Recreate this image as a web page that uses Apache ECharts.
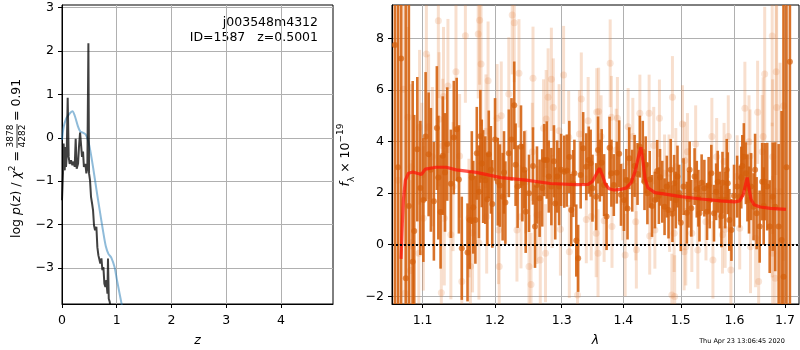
<!DOCTYPE html>
<html><head><meta charset="utf-8">
<script src="https://cdn.jsdelivr.net/npm/echarts@6/dist/echarts.min.js"></script>
<style>html,body{margin:0;padding:0;background:#fff}#c{width:800px;height:350px}</style>
</head><body><div id="c"></div>
<script>
// ---------- left panel: p(z) ----------
const pzBlueZ   = [0, 0.03, 0.08, 0.14, 0.19, 0.23, 0.29, 0.335, 0.38, 0.43, 0.48, 0.52, 0.57, 0.63, 0.69, 0.75, 0.80, 0.85, 0.90, 0.96, 1.0, 1.05, 1.09, 1.15];
const pzBlueLog = [-0.05, 0.25, 0.45, 0.56, 0.61, 0.52, 0.27, 0.14, 0.12, 0.08, -0.08, -0.32, -0.7, -1.2, -1.68, -2.15, -2.5, -2.68, -2.76, -2.98, -3.25, -3.58, -3.84, -4.25];
const pzBlackZ   = [0, 0.018, 0.03, 0.05, 0.06, 0.073, 0.085, 0.104, 0.122, 0.14, 0.165, 0.19, 0.213, 0.232, 0.25, 0.268, 0.293, 0.31, 0.33, 0.348, 0.366, 0.384, 0.40, 0.427, 0.445, 0.463, 0.482, 0.494, 0.512, 0.53, 0.55, 0.567, 0.585, 0.604, 0.628, 0.646, 0.665, 0.683, 0.70, 0.72, 0.738, 0.756, 0.774, 0.793, 0.81, 0.83, 0.84, 0.854, 0.872, 0.89, 0.93];
const pzBlackLog = [-1.44, -0.82, -0.13, -0.75, -0.21, -0.67, -0.44, 0.92, -0.44, -0.6, -0.52, -0.63, -0.55, -0.67, -0.02, -0.71, -0.6, -0.21, 0.12, 0.1, -0.44, -0.32, -0.67, -0.6, -0.82, -0.71, 2.18, -0.82, -0.98, -1.36, -1.52, -1.67, -2.02, -2.13, -2.05, -2.52, -2.71, -2.75, -2.9, -2.78, -3.05, -2.98, -3.36, -3.44, -3.28, -3.59, -2.78, -3.71, -3.78, -3.98, -4.1];
const leftXTicks = [0, 1, 2, 3, 4];
const leftYTicks = [-3, -2, -1, 0, 1, 2, 3];
const labelLine1 = 'j003548m4312';
const labelLine2 = 'ID=1587   z=0.5001';
const chi2Num = '3878', chi2Den = '4282', chi2Val = '0.91';

// ---------- right panel: spectrum ----------
const rightXTicks = [1.1, 1.2, 1.3, 1.4, 1.5, 1.6, 1.7];
const rightYTicks = [-2, 0, 2, 4, 6, 8];
const darkWave = [1.064,1.072,1.078,1.087,1.089,1.093,1.097,1.101,1.104,1.108,
  1.111,1.115,1.119,1.121,1.124,1.127,1.130,1.133,1.138,1.142,
  1.146,1.149,1.153,1.161,1.164,1.169,1.172,1.174,1.177,1.181,
  1.183,1.186,1.189,1.191,1.196,1.200,1.204,1.207,1.211,1.215,
  1.220,1.224,1.228,1.233,1.238,1.240,1.245,1.250,1.256,1.259,
  1.262,1.266,1.273,1.277,1.280,1.284,1.288,1.293,1.296,1.304,
  1.308,1.315,1.320,1.323,1.326,1.330,1.334,1.339,1.343,1.349,
  1.355,1.358,1.361,1.364,1.368,1.372,1.377,1.380,1.384,1.389,
  1.393,1.396,1.401,1.405,1.410,1.415,1.419,1.424,1.428,1.433,
  1.436,1.441,1.445,1.449,1.454,1.458,1.463,1.467,1.471,1.475,
  1.478,1.482,1.488,1.491,1.494,1.500,1.505,1.511,1.514,1.519,
  1.525,1.529,1.534,1.538,1.543,1.548,1.553,1.556,1.561,1.565,
  1.568,1.572,1.577,1.582,1.587,1.590,1.594,1.599,1.605,1.610,
  1.615,1.618,1.622,1.628,1.632,1.637,1.643,1.649,1.654,1.659,
  1.664,1.669,1.675,1.680,1.687,1.693,1.697,1.703,1.710,
  1.167,1.179,1.194,1.213,1.230,1.243,1.270,1.290,1.299,1.312,
  1.318,1.346,1.407,1.438,1.461,1.485,1.497,1.516,1.532,1.551,
  1.575,1.585,1.613,1.625,1.640,1.657,1.068,1.082];
const darkFlux = [7.74,7.22,-1.3,-0.66,0.53,3.7,2.2,1.73,4.19,3.5,
  2.9,1.68,4.52,2.6,1.27,3.45,2.8,3.9,2.36,4.15,
  4.47,2.53,-0.14,-0.3,0.96,1.45,0.96,3.54,2.05,3.15,
  2.64,2.5,1.76,3.5,1.58,4.08,2.44,2.29,1.86,1.63,
  3.54,4.08,5.4,2.25,3.8,2.4,1.28,1.99,3.05,0.7,
  2.31,1.8,3.28,3.28,2.64,2.25,3.23,2.64,2.25,2.83,
  2.87,1.34,2.77,0.16,-0.53,2.7,3.74,3.02,3.28,2.19,
  1.86,3.67,2.87,3.18,2.31,1.09,3.76,2.77,2.31,2.79,
  3.52,1.93,1.73,2.51,3.35,2.48,3.05,2.74,3.8,3.6,
  2.44,1.99,2.53,1.5,1.73,2.86,2.61,2.05,1.47,2.25,
  1.34,2.9,2.38,1.73,2.64,0.85,2.25,1.24,1.76,1.41,
  2.64,2.15,1.22,2.4,2.19,1.28,1.73,2.77,1.22,2.05,
  2.44,1.73,2.4,1.73,2.38,0.96,0.57,1.9,2.25,1.86,
  3.05,3.41,2.77,1.73,2.25,1.47,1.22,0.7,2.44,2.44,
  2.25,0.7,1.86,1.47,0.7,0.18,-1.24,3.0,7.09,
  2.6,4.2,2.9,2.8,3.1,2.9,2.2,1.6,2.9,3.4,
  2.37,3.16,1.4,3.1,1.9,1.2,2.0,2.9,1.8,2.3,
  1.1,2.9,2.6,2.2,2.9,1.5,3.0,1.5];
const darkErr  = [12,12,12,7,4.5,2.8,2.6,2.4,2.5,2.4,
  2.4,2.3,2.4,2.4,2.2,2.3,2.3,2.2,2.1,2.2,
  2.0,2.1,2.0,1.9,1.9,1.8,1.7,1.8,1.8,1.7,
  1.8,1.7,1.8,1.7,1.7,1.6,1.7,1.6,1.7,1.6,
  1.7,1.6,1.7,1.6,1.6,1.5,1.6,1.5,1.5,1.6,
  1.5,1.5,1.4,1.5,1.4,1.5,1.4,1.4,1.5,1.4,
  1.4,1.4,1.3,1.4,1.3,1.3,1.4,1.3,1.3,1.3,
  1.3,1.3,1.2,1.3,1.2,1.3,1.2,1.3,1.2,1.2,
  1.3,1.2,1.2,1.2,1.2,1.2,1.2,1.2,1.2,1.2,
  1.1,1.2,1.1,1.2,1.1,1.2,1.1,1.2,1.1,1.2,
  1.1,1.2,1.1,1.1,1.2,1.1,1.1,1.2,1.1,1.1,
  1.1,1.1,1.1,1.1,1.1,1.1,1.1,1.1,1.1,1.1,
  1.2,1.1,1.2,1.1,1.2,1.2,1.2,1.2,1.2,1.2,
  1.2,1.3,1.2,1.3,1.3,1.3,1.4,1.4,1.5,1.5,
  1.7,1.8,2.1,2.5,3.2,5,12,12,12,
  1.8,1.8,1.7,1.6,1.6,1.5,1.5,1.4,1.4,1.4,
  1.3,1.3,1.2,1.1,1.1,1.1,1.1,1.1,1.1,1.1,
  1.2,1.2,1.2,1.3,1.4,1.5,12,8];
const lightWave = [1.068,1.075,1.077,1.081,1.084,1.085,1.086,1.095,1.096,1.099,1.101,1.105,1.108,1.113,1.121,1.122,1.125,1.127,1.128,1.129,1.134,1.138,1.141,1.145,1.150,1.153,1.158,1.163,1.165,1.168,1.176,1.177,1.178,1.180,1.187,1.188,1.190,1.203,1.205,1.206,1.209,1.220,1.225,1.228,1.232,1.235,1.238,1.245,1.250,1.253,1.255,1.256,1.262,1.267,1.272,1.275,1.276,1.279,1.284,1.285,1.287,1.296,1.298,1.303,1.311,1.312,1.325,1.328,1.331,1.339,1.342,1.347,1.355,1.356,1.358,1.359,1.363,1.368,1.378,1.380,1.381,1.388,1.390,1.399,1.403,1.408,1.416,1.421,1.422,1.428,1.444,1.445,1.452,1.454,1.462,1.471,1.479,1.480,1.484,1.485,1.488,1.489,1.491,1.503,1.506,1.507,1.509,1.512,1.520,1.527,1.531,1.546,1.557,1.559,1.566,1.577,1.580,1.582,1.588,1.593,1.605,1.610,1.620,1.628,1.630,1.631,1.641,1.645,1.647,1.654,1.656,1.659,1.674,1.674,1.675,1.675,1.680,1.682,1.683,1.690,1.697];
const lightFlux = [2.5,6.02,-1.88,4.94,-1.0,3.02,0.08,-0.33,4.55,2.7,1.02,7.39,4.57,3.41,8.68,4.86,-1.86,3.83,5.74,1.02,6.15,0.38,2.25,6.7,3.44,-1.43,8.1,1.03,-0.85,0.45,8.17,0.07,8.7,7.0,4.4,1.08,6.35,4.9,0.57,-0.85,5.0,5.84,8.9,8.6,0.57,6.64,1.08,2.44,-0.85,-1.54,3.6,6.45,1.15,-0.59,4.51,-0.33,4.87,5.71,6.41,1.67,5.32,4.42,0.6,6.58,4.16,-0.27,-1.95,4.29,5.65,0.98,4.8,1.09,0.44,5.14,-0.33,5.16,4.19,0.93,7.03,4.94,0.7,3.67,4.9,1.67,-0.4,4.57,4.19,0.89,-0.2,5.09,5.09,0.34,3.84,0.57,4.9,2.77,2.77,1.22,-1.95,5.71,0.44,-2.01,3.02,4.68,-0.27,3.26,-0.08,3.6,0.44,3.9,-0.21,0.89,4.19,-0.59,3.41,0.38,3.22,0.6,4.19,-0.98,2.64,0.64,5.29,3.99,3.44,-0.08,0.25,5.13,-1.43,3.6,4.19,6.62,8.09,1.73,3.41,-0.33,-1.3,6.7,5.32,2.05,5.38];
const lightErr  = [8,4,4,3.5,3.5,3.2,3.2,3,3,2.8,2.8,3,2.8,2.7,3,2.6,2.8,2.6,2.7,2.6,2.6,2.5,2.5,2.6,2.4,2.4,2.6,2.3,2.3,2.3,2.5,2.2,2.5,2.4,2.2,2.2,2.3,2.1,2.1,2.1,2.1,2.2,2.3,2.3,2.0,2.1,2.0,2.0,2.0,2.0,1.9,2.0,1.9,1.9,1.9,1.9,1.9,1.9,2.0,1.8,1.9,1.8,1.8,1.9,1.8,1.8,1.8,1.7,1.8,1.7,1.7,1.7,1.7,1.7,1.7,1.7,1.6,1.6,1.7,1.6,1.6,1.6,1.6,1.5,1.6,1.5,1.5,1.5,1.5,1.5,1.5,1.5,1.5,1.5,1.5,1.5,1.5,1.5,1.6,1.6,1.5,1.6,1.5,1.5,1.5,1.5,1.5,1.5,1.5,1.5,1.5,1.5,1.5,1.5,1.5,1.5,1.5,1.5,1.6,1.6,1.6,1.6,1.8,1.8,1.8,1.8,1.9,2.0,2.0,2.2,2.3,2.6,3.5,3,3,3,3.5,4,4,5,6];
const modelWave = [1.0719,1.0735,1.0749,1.0775,1.0815,1.087,1.0983,1.1038,1.1177,1.1316,1.1454,1.1732,1.2085,1.2456,1.2827,1.3216,1.3420,1.3490,1.3545,1.3604,1.3650,1.3700,1.3760,1.3850,1.3950,1.4050,1.4130,1.4200,1.4255,1.4298,1.4335,1.4370,1.4420,1.4540,1.4750,1.5,1.5366,1.5736,1.6,1.6100,1.6170,1.6215,1.6245,1.6280,1.6320,1.6380,1.6500,1.6704,1.7020];
const modelFlux = [-0.55,0.8,1.73,2.5,2.77,2.82,2.72,2.93,3.0,3.0,2.9,2.8,2.6,2.5,2.37,2.33,2.34,2.45,2.7,2.96,2.7,2.35,2.17,2.12,2.14,2.2,2.4,2.85,3.4,3.78,3.2,2.55,2.2,2.02,1.95,1.86,1.77,1.7,1.66,1.7,1.95,2.35,2.6,2.2,1.75,1.55,1.46,1.41,1.37];
const timeStamp = 'Thu Apr 23 13:06:45 2020';

// ---------- chart ----------
const FONT = 'DejaVu Sans';
const fmtNum = v => (v < 0 ? '\u2212' + Math.abs(v) : String(v));
const zip3 = (a, b, c) => a.map((v, i) => [v, b[i], c[i]]);
const zip2 = (a, b) => a.map((v, i) => [v, b[i]]);
const DARK = 'rgba(212,96,12,0.88)';
const LIGHT = 'rgba(226,126,60,0.25)';

function errBar(color, w) {
  return function (params, api) {
    const x = api.value(0), y = api.value(1), e = api.value(2);
    const lo = api.coord([x, y - e]);
    const hi = api.coord([x, y + e]);
    return {type: 'rect', shape: {x: lo[0] - w / 2, y: hi[1], width: w, height: lo[1] - hi[1]}, style: {fill: color}};
  };
}

const axisCommon = {
  axisLine: {show: true, onZero: false, lineStyle: {color: '#000', width: 1}},
  axisTick: {show: true, length: 4, lineStyle: {color: '#000', width: 1}},
  splitLine: {show: true, lineStyle: {color: '#b0b0b0', width: 1}},
};
const lab = {color: '#000', fontSize: 12.5, fontFamily: FONT};

const chart = echarts.init(document.getElementById('c'), null, {renderer: 'canvas'});
chart.setOption({
  animation: false,
  textStyle: {fontFamily: FONT},
  grid: [
    {left: 62, top: 5, width: 271, height: 299, show: true, borderColor: '#000', borderWidth: 1, backgroundColor: 'rgba(0,0,0,0)', containLabel: false, outerBoundsMode: 'none'},
    {left: 392, top: 5, width: 407, height: 299, show: true, borderColor: '#000', borderWidth: 1, backgroundColor: 'rgba(0,0,0,0)', containLabel: false, outerBoundsMode: 'none'}
  ],
  xAxis: [
    Object.assign({}, axisCommon, {
      gridIndex: 0, type: 'value', min: 0, max: 4.95,
      axisTick: Object.assign({}, axisCommon.axisTick, {customValues: leftXTicks}),
      axisLabel: Object.assign({}, lab, {customValues: leftXTicks, margin: 10, formatter: fmtNum}),
      name: 'z', nameLocation: 'middle', nameGap: 30,
      nameTextStyle: {color: '#000', fontSize: 12.5, fontStyle: 'italic', fontFamily: FONT}
    }),
    Object.assign({}, axisCommon, {
      gridIndex: 1, type: 'log', logBase: 10, min: 1.0603, max: 1.7288,
      axisTick: Object.assign({}, axisCommon.axisTick, {customValues: rightXTicks}),
      axisLabel: Object.assign({}, lab, {customValues: rightXTicks, margin: 10, formatter: v => Number(v).toFixed(1)}),
      name: 'λ', nameLocation: 'middle', nameGap: 30,
      nameTextStyle: {color: '#000', fontSize: 12.5, fontStyle: 'italic', fontFamily: FONT}
    })
  ],
  yAxis: [
    Object.assign({}, axisCommon, {
      gridIndex: 0, type: 'value', min: -3.83, max: 3.06,
      axisTick: Object.assign({}, axisCommon.axisTick, {customValues: leftYTicks}),
      axisLabel: Object.assign({}, lab, {customValues: leftYTicks, margin: 8, formatter: fmtNum})
    }),
    Object.assign({}, axisCommon, {
      gridIndex: 1, type: 'value', min: -2.30, max: 9.29,
      axisTick: Object.assign({}, axisCommon.axisTick, {customValues: rightYTicks}),
      axisLabel: Object.assign({}, lab, {customValues: rightYTicks, margin: 8, formatter: fmtNum})
    })
  ],
  series: [
    {type: 'line', xAxisIndex: 0, yAxisIndex: 0, data: zip2(pzBlueZ, pzBlueLog), showSymbol: false, smooth: 0.3,
     lineStyle: {color: 'rgba(31,119,180,0.5)', width: 2}, z: 3},
    {type: 'line', xAxisIndex: 0, yAxisIndex: 0, data: zip2(pzBlackZ, pzBlackLog), showSymbol: false,
     lineStyle: {color: 'rgba(0,0,0,0.75)', width: 2}, z: 4},
    {type: 'custom', xAxisIndex: 1, yAxisIndex: 1, data: zip3(lightWave, lightFlux, lightErr), renderItem: errBar(LIGHT, 3), clip: true, z: 2},
    {type: 'scatter', xAxisIndex: 1, yAxisIndex: 1, data: zip2(lightWave, lightFlux), symbolSize: 7, itemStyle: {color: LIGHT}, z: 2},
    {type: 'custom', xAxisIndex: 1, yAxisIndex: 1, data: zip3(darkWave, darkFlux, darkErr), renderItem: errBar(DARK, 2.6), clip: true, z: 3},
    {type: 'scatter', xAxisIndex: 1, yAxisIndex: 1, data: zip2(darkWave, darkFlux), symbolSize: 6, itemStyle: {color: DARK}, z: 3},
    {type: 'line', xAxisIndex: 1, yAxisIndex: 1, data: zip2(modelWave, modelFlux), showSymbol: false,
     lineStyle: {color: 'rgba(255,20,10,0.72)', width: 3.2}, z: 5,
     markLine: {silent: true, symbol: 'none', label: {show: false}, lineStyle: {color: '#000', type: [2, 2], width: 2}, data: [{yAxis: 0}], z: 6}}
  ],
  graphic: [
    {type: 'text', x: 318, y: 23, style: {text: labelLine1, fill: '#000', font: '12.5px "DejaVu Sans"', align: 'right', verticalAlign: 'middle'}},
    {type: 'text', x: 318, y: 38, style: {text: labelLine2, fill: '#000', font: '12.5px "DejaVu Sans"', align: 'right', verticalAlign: 'middle'}},
    {type: 'group', x: 17, y: 136, rotation: Math.PI / 2, children: [
      {type: 'text', x: -15, y: 0, style: {
        text: '{n|log }{i|p}{n|(}{i|z}{n|) / }{i|χ}{s|2}{n| =}', align: 'right', verticalAlign: 'middle', fill: '#000',
        rich: {n: {fontSize: 12.5, fontFamily: FONT, lineHeight: 18}, i: {fontSize: 12.5, fontFamily: FONT, fontStyle: 'italic', lineHeight: 18},
               s: {fontSize: 9, fontFamily: FONT, verticalAlign: 'top', lineHeight: 11}}}},
      {type: 'text', x: 0, y: -2, style: {text: chi2Num, fill: '#000', font: '9px "DejaVu Sans"', align: 'center', verticalAlign: 'bottom'}},
      {type: 'line', shape: {x1: -12, y1: 0, x2: 12, y2: 0}, style: {stroke: '#000', lineWidth: 0.8}},
      {type: 'text', x: 0, y: 1, style: {text: chi2Den, fill: '#000', font: '9px "DejaVu Sans"', align: 'center', verticalAlign: 'top'}},
      {type: 'text', x: 15, y: 0, style: {text: '= ' + chi2Val, fill: '#000', font: '12.5px "DejaVu Sans"', align: 'left', verticalAlign: 'middle'}}
    ]},
    {type: 'group', x: 346, y: 155, rotation: Math.PI / 2, children: [
      {type: 'text', x: 0, y: 0, style: {
        text: '{i|f}{b|λ}{n| × 10}{s|−19}', align: 'center', verticalAlign: 'middle', fill: '#000',
        rich: {n: {fontSize: 12.5, fontFamily: FONT, lineHeight: 20}, i: {fontSize: 12.5, fontFamily: FONT, fontStyle: 'italic', lineHeight: 20},
               b: {fontSize: 9, fontFamily: FONT, verticalAlign: 'bottom', lineHeight: 11},
               s: {fontSize: 9, fontFamily: FONT, verticalAlign: 'top', lineHeight: 11}}}}
    ]},
    {type: 'text', x: 742, y: 341, style: {text: timeStamp, fill: '#000', font: '6.5px "DejaVu Sans"', align: 'center', verticalAlign: 'middle'}}
  ]
});
</script>
</body></html>
